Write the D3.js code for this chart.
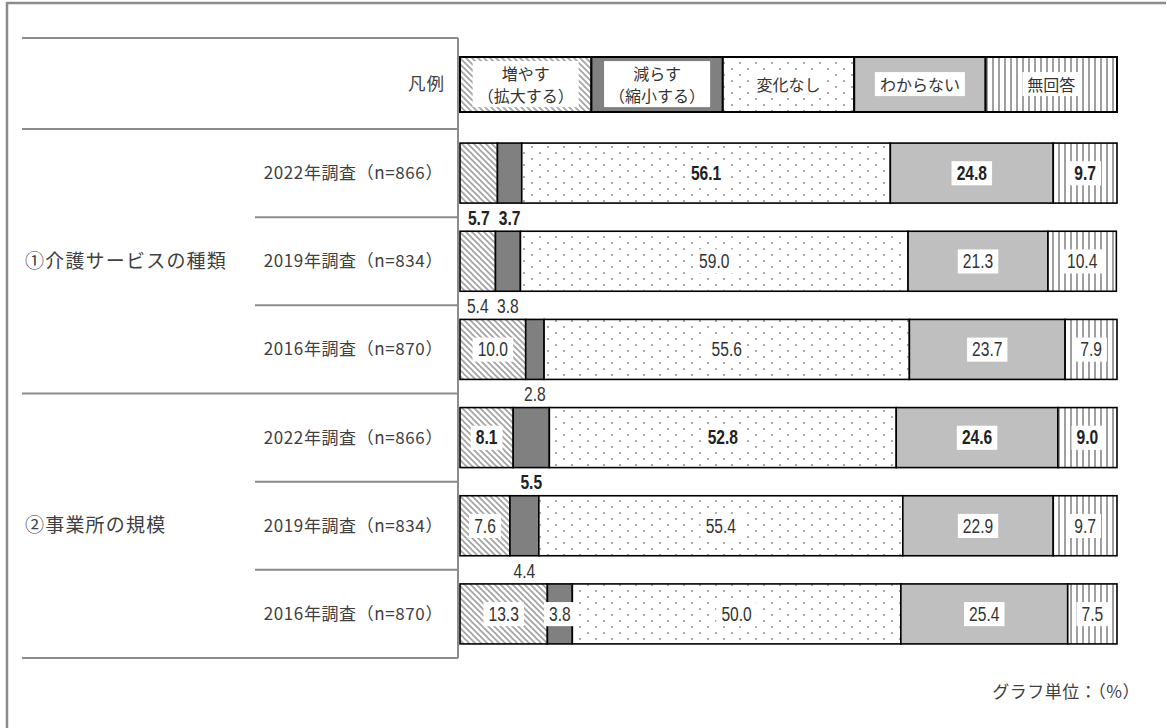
<!DOCTYPE html>
<html><head><meta charset="utf-8">
<script src="https://cdn.jsdelivr.net/npm/d3@7"></script>
<style>
body{margin:0;background:#fff;}
svg{display:block;}
</style></head>
<body>
<svg id="chart" width="1167" height="728"></svg>
<script>
const legendLabel = "凡例";
const categories = ["増やす（拡大する）","減らす（縮小する）","変化なし","わからない","無回答"];
const legendLines = [["増やす","（拡大する）"],["減らす","（縮小する）"],["変化なし"],["わからない"],["無回答"]];
const groups = ["①介護サービスの種類","②事業所の規模"];
const rowLabels = ["2022年調査（n=866）","2019年調査（n=834）","2016年調査（n=870）","2022年調査（n=866）","2019年調査（n=834）","2016年調査（n=870）"];
const rowGroup = [0,0,0,1,1,1];
const boldRow = [true,false,false,true,false,false];
const vInc = [5.7,5.4,10.0,8.1,7.6,13.3];
const vDec = [3.7,3.8,2.8,5.5,4.4,3.8];
const vSame = [56.1,59.0,55.6,52.8,55.4,50.0];
const vUnknown = [24.8,21.3,23.7,24.6,22.9,25.4];
const vNoAns = [9.7,10.4,7.9,9.0,9.7,7.5];
// which value labels sit under the bar (small segments)
const outInc = [true,true,false,false,false,false];
const outDec = [true,true,true,true,true,false];
const unitNote = "グラフ単位：（%）";

const series = [vInc,vDec,vSame,vUnknown,vNoAns];
const svg = d3.select("#chart");
const defs = svg.append("defs");
const fills = ["url(#pHatch)","#808080","url(#pDots)","#bfbfbf","url(#pVert)"];

// patterns
const ph = defs.append("pattern").attr("id","pHatch").attr("patternUnits","userSpaceOnUse").attr("width",6).attr("height",6);
ph.append("rect").attr("width",6).attr("height",6).attr("fill","#fff");
ph.append("path").attr("d","M-1,-1 L7,7 M-4,2 L2,8 M2,-4 L8,2").attr("stroke","#a3a3a3").attr("stroke-width",1.7);
const pd = defs.append("pattern").attr("id","pDots").attr("patternUnits","userSpaceOnUse").attr("width",16).attr("height",12);
pd.append("rect").attr("width",16).attr("height",12).attr("fill","#fff");
pd.append("circle").attr("cx",4).attr("cy",3).attr("r",1.1).attr("fill","#999");
pd.append("circle").attr("cx",12).attr("cy",9).attr("r",1.1).attr("fill","#999");
const pv = defs.append("pattern").attr("id","pVert").attr("patternUnits","userSpaceOnUse").attr("width",6).attr("height",6);
pv.append("rect").attr("width",6).attr("height",6).attr("fill","#fff");
pv.append("rect").attr("x",2).attr("width",2).attr("height",6).attr("fill","#a0a0a0");

const x = d3.scaleLinear().domain([0,100]).range([460,1117]);
const bandY = d3.scaleBand().domain(d3.range(rowLabels.length)).range([129,658]).paddingInner(0).paddingOuter(0);
const barH = 60;
const cjk = "'Noto Sans CJK JP','Noto Sans',sans-serif";
const numFont = "'Liberation Sans','Arial',sans-serif";
const narrow = 0.8;

// outer frame (top/left)
svg.append("path").attr("d","M7,728 L7,3 L1166,3").attr("fill","none").attr("stroke","#8c8c8c").attr("stroke-width",2.5);

// table lines
const tbl = svg.append("g").attr("stroke","#8c8c8c").attr("stroke-width",2);
tbl.append("line").attr("x1",22).attr("x2",458).attr("y1",38).attr("y2",38);
d3.range(rowLabels.length+1).forEach(i=>{
  const y = bandY(i) ?? 658;
  const full = (i%3===0);
  tbl.append("line").attr("x1",full?22:255).attr("x2",458).attr("y1",y).attr("y2",y);
});
tbl.append("line").attr("x1",458).attr("x2",458).attr("y1",38).attr("y2",658);

// left labels
svg.append("text").attr("x",445).attr("y",84).attr("dy","0.35em").attr("text-anchor","end")
  .attr("font-family",cjk).attr("font-size",17.5).attr("letter-spacing",1).attr("fill","#404040").text(legendLabel);
rowLabels.forEach((t,i)=>{
  svg.append("text").attr("x",443).attr("y",bandY(i)+bandY.bandwidth()/2).attr("dy","0.35em").attr("text-anchor","end")
    .attr("font-family",cjk).attr("font-size",17).attr("letter-spacing",0.6).attr("fill","#404040").text(t);
});
groups.forEach((g,gi)=>{
  const idx = rowGroup.map((v,i)=>v===gi?i:-1).filter(i=>i>=0);
  const yc = (bandY(idx[0]) + bandY(idx[idx.length-1]) + bandY.bandwidth())/2;
  svg.append("text").attr("x",25).attr("y",yc).attr("dy","0.35em")
    .attr("font-family",cjk).attr("font-size",19).attr("letter-spacing",1.2).attr("fill","#404040").text(g);
});

// legend bar
const lx = d3.scaleBand().domain(d3.range(categories.length)).range([460,1117]);
const lg = svg.append("g");
categories.forEach((c,i)=>{
  lg.append("rect").attr("x",lx(i)).attr("y",57).attr("width",lx.bandwidth()).attr("height",55)
    .attr("fill",fills[i]).attr("stroke","#000").attr("stroke-width",2);
});
categories.forEach((c,i)=>{
  const lines = legendLines[i];
  const cx = lx(i)+lx.bandwidth()/2, cy = 85.5;
  const g = lg.append("g");
  const t = g.append("text").attr("text-anchor","middle").attr("font-family",cjk).attr("font-size",16).attr("fill","#333");
  lines.forEach((ln,k)=>{
    t.append("tspan").attr("x",cx).attr("y",cy + (k-(lines.length-1)/2)*22).attr("dy","0.35em").text(ln);
  });
  const bb = t.node().getBBox();
  g.insert("rect","text").attr("x",bb.x-5).attr("y",bb.y).attr("width",bb.width+10).attr("height",bb.height).attr("fill","#fff");
});

// stacked bars
const stackData = rowLabels.map((r,i)=>{ const o={row:i}; categories.forEach((c,k)=>o[c]=series[k][i]); return o;});
const stacked = d3.stack().keys(categories)(stackData);
const bars = svg.append("g");
stacked.forEach((layer,k)=>{
  bars.selectAll(null).data(layer).join("rect")
    .attr("x",d=>x(d[0])).attr("width",d=>x(d[1])-x(d[0]))
    .attr("y",(d,i)=>bandY(i)+bandY.bandwidth()/2-barH/2).attr("height",barH)
    .attr("fill",fills[k]).attr("stroke","#000").attr("stroke-width",1.6);
});

// value labels
const labG = svg.append("g");
stacked.forEach((layer,k)=>{
  layer.forEach((d,i)=>{
    const v = series[k][i];
    const cx = x((d[0]+d[1])/2);
    const yMid = bandY(i)+bandY.bandwidth()/2;
    const out = (k===0 && outInc[i]) || (k===1 && outDec[i]);
    const ty = out? yMid+barH/2+15 : yMid;
    const g = labG.append("g");
    if(!out){
      g.append("rect").attr("class","bg").attr("fill","#fff");
    }
    const t = g.append("text").attr("x",0).attr("y",0).attr("dy","0.35em")
      .attr("transform",`translate(${cx},${ty}) scale(${narrow},1)`)
      .attr("text-anchor","middle").attr("font-family",numFont).attr("font-size",19.5)
      .attr("font-weight",boldRow[i]?"bold":"normal").attr("fill",boldRow[i]?"#222":"#333").text(v.toFixed(1));
    if(!out){
      const bb = t.node().getBBox();
      const w = bb.width*narrow;
      g.select("rect.bg").attr("x",cx-w/2-5).attr("y",ty+bb.y-1).attr("width",w+10).attr("height",bb.height+2);
    }
  });
});

svg.append("text").attr("x",1140).attr("y",692).attr("dy","0.35em").attr("text-anchor","end")
  .attr("font-family",cjk).attr("font-size",17).attr("letter-spacing",0.5).attr("fill","#404040").text(unitNote);
</script>
</body></html>
